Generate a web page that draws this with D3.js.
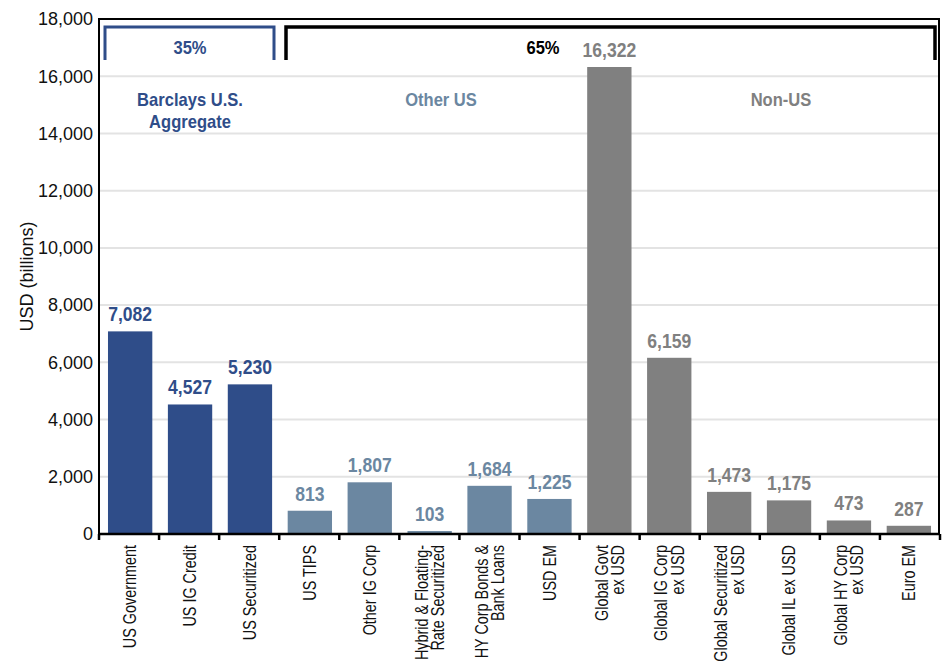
<!DOCTYPE html>
<html><head><meta charset="utf-8">
<script src="https://cdn.jsdelivr.net/npm/d3@7"></script>
<style>body{margin:0;background:#fff}svg{display:block}</style>
</head><body>
<script>
const categories = [
  ["US Government"], ["US IG Credit"], ["US Securitized"], ["US TIPS"], ["Other IG Corp"],
  ["Hybrid & Floating-", "Rate Securitized"], ["HY Corp Bonds &", "Bank Loans"], ["USD EM"],
  ["Global Govt", "ex USD"], ["Global IG Corp", "ex USD"], ["Global Securitized", "ex USD"],
  ["Global IL ex USD"], ["Global HY Corp", "ex USD"], ["Euro EM"]
];
const values = [7082, 4527, 5230, 813, 1807, 103, 1684, 1225, 16322, 6159, 1473, 1175, 473, 287];
const groups = ["agg","agg","agg","other","other","other","other","other","non","non","non","non","non","non"];
const yTicks = [0, 2000, 4000, 6000, 8000, 10000, 12000, 14000, 16000, 18000];
const colors = {agg: "#2f4d89", other: "#6b87a1", non: "#808080"};

const W = 943, H = 667;
const m = {left: 99, right: 3, top: 19, bottom: 133};
const svg = d3.select("body").append("svg").attr("width", W).attr("height", H);
const font = "'Liberation Sans', Arial, sans-serif";

const x = d3.scaleBand().domain(d3.range(categories.length)).range([m.left, W - m.right]).paddingInner(0.26).paddingOuter(0.15);
const y = d3.scaleLinear().domain([0, 18000]).range([H - m.bottom, m.top]);

// gridlines
svg.append("g").selectAll("line").data(yTicks.slice(1)).join("line")
  .attr("x1", m.left).attr("x2", W - m.right).attr("y1", d => y(d)).attr("y2", d => y(d))
  .attr("stroke", "#e3e3e3").attr("stroke-width", 2);

// bars
svg.append("g").selectAll("rect").data(values).join("rect")
  .attr("x", (d, i) => x(i)).attr("width", x.bandwidth())
  .attr("y", d => y(d)).attr("height", d => y(0) - y(d))
  .attr("fill", (d, i) => colors[groups[i]]);

// value labels
svg.append("g").selectAll("text").data(values).join("text")
  .attr("transform", (d, i) => `translate(${x(i) + x.bandwidth() / 2},${y(d) - 10}) scale(0.9,1)`)
  .attr("text-anchor", "middle").attr("font-family", font).attr("font-weight", "bold")
  .attr("font-size", 19.5).attr("fill", (d, i) => colors[groups[i]])
  .text(d => d3.format(",")(d));

// frame
svg.append("rect").attr("x", m.left).attr("y", m.top).attr("width", W - m.right - m.left - 1).attr("height", y(0) - m.top)
  .attr("fill", "none").attr("stroke", "#000").attr("stroke-width", 2);

// y axis labels
svg.append("g").selectAll("text").data(yTicks).join("text")
  .attr("x", m.left - 6).attr("y", d => y(d)).attr("dy", "0.35em")
  .attr("text-anchor", "end").attr("font-family", font).attr("font-size", 18).attr("fill", "#111")
  .text(d => d3.format(",")(d));

svg.append("text").attr("transform", `translate(33,${(y(0) + m.top) / 2}) rotate(-90)`)
  .attr("text-anchor", "middle").attr("font-family", font).attr("font-size", 18).attr("fill", "#111")
  .text("USD (billions)");

// x axis
const bounds = d3.range(categories.length + 1).map(i => m.left + i * (W - m.right - m.left) / categories.length);
svg.append("line").attr("x1", m.left - 1).attr("x2", W - m.right).attr("y1", y(0)).attr("y2", y(0)).attr("stroke", "#000").attr("stroke-width", 2.5);
svg.append("g").selectAll("line").data(bounds).join("line")
  .attr("x1", d => d).attr("x2", d => d).attr("y1", y(0)).attr("y2", y(0) + 6)
  .attr("stroke", "#000").attr("stroke-width", 2.5);

// x labels
const xl = svg.append("g").selectAll("text").data(categories).join("text")
  .attr("transform", (d, i) => `translate(${x(i) + x.bandwidth() / 2},${y(0) + 11}) rotate(-90) scale(0.8,1)`)
  .attr("text-anchor", "end").attr("font-family", font).attr("font-size", 18).attr("fill", "#111");
xl.each(function(d) {
  const t = d3.select(this);
  const n = d.length;
  d.forEach((line, k) => {
    t.append("tspan").attr("x", 0).attr("y", 0)
      .attr("dy", ((k - (n - 1) / 2) * 0.9 + 0.35) + "em").text(line);
  });
});

// brackets
const by0 = 27, by1 = 60;
svg.append("path").attr("d", `M105,${by1}V${by0}H274V${by1}`).attr("fill", "none").attr("stroke", colors.agg).attr("stroke-width", 3);
svg.append("path").attr("d", `M286,${by1}V${by0}H935V${by1}`).attr("fill", "none").attr("stroke", "#000").attr("stroke-width", 3.5);
svg.append("text").attr("transform", "translate(190,54) scale(0.92,1)").attr("text-anchor", "middle").attr("font-family", font)
  .attr("font-weight", "bold").attr("font-size", 18).attr("fill", colors.agg).text("35%");
svg.append("text").attr("transform", "translate(543,54) scale(0.92,1)").attr("text-anchor", "middle").attr("font-family", font)
  .attr("font-weight", "bold").attr("font-size", 18).attr("fill", "#000").text("65%");

// group titles
const gt = [
  {lines: ["Barclays  U.S.", "Aggregate"], x: 190, c: colors.agg},
  {lines: ["Other US"], x: 441, c: colors.other},
  {lines: ["Non-US"], x: 781, c: colors.non}
];
gt.forEach(g => {
  const t = svg.append("text").attr("transform", `translate(${g.x},106) scale(0.92,1)`)
    .attr("text-anchor", "middle").attr("font-family", font)
    .attr("font-weight", "bold").attr("font-size", 18).attr("fill", g.c);
  g.lines.forEach((l, k) => t.append("tspan").attr("x", 0).attr("y", k * 22).text(l));
});
</script>
</body></html>
